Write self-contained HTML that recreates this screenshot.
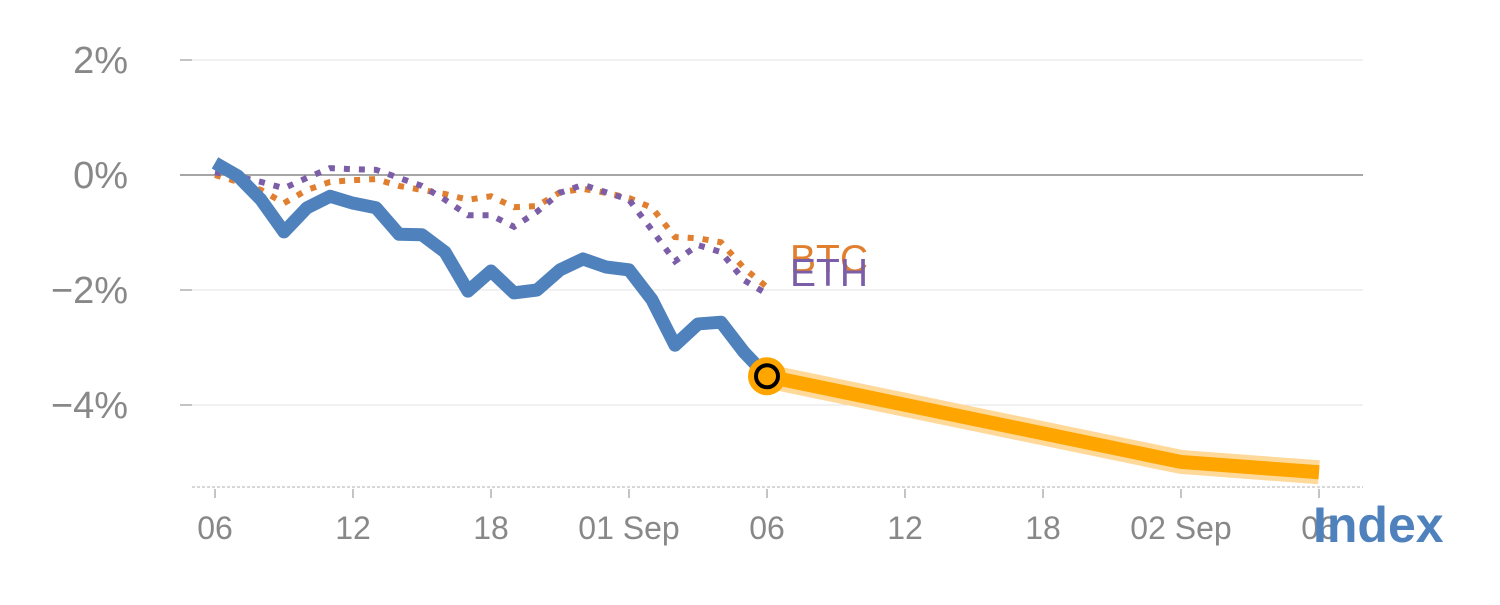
<!DOCTYPE html>
<html><head><meta charset="utf-8"><style>
body{margin:0;background:#fff;}
svg text{font-family:"Liberation Sans",sans-serif;}
</style></head><body>
<svg id="chart" width="1500" height="600" xmlns="http://www.w3.org/2000/svg"></svg>
<script>
const xTickLabels=["06","12","18","01 Sep","06","12","18","02 Sep","06"];
const yTicks=[2,0,-2,-4];
const indexValues=[0.21,-0.02,-0.43,-0.99,-0.57,-0.37,-0.49,-0.57,-1.03,-1.04,-1.34,-2.02,-1.67,-2.05,-2.0,-1.65,-1.46,-1.6,-1.65,-2.17,-2.96,-2.59,-2.56,-3.08,-3.5];
const btcValues=[0,-0.12,-0.26,-0.49,-0.26,-0.12,-0.09,-0.07,-0.19,-0.26,-0.33,-0.43,-0.37,-0.56,-0.54,-0.3,-0.24,-0.31,-0.4,-0.57,-1.08,-1.1,-1.17,-1.62,-1.95];
const ethValues=[0.05,-0.03,-0.12,-0.23,-0.05,0.12,0.1,0.09,-0.05,-0.19,-0.43,-0.7,-0.7,-0.9,-0.64,-0.31,-0.17,-0.3,-0.43,-0.96,-1.5,-1.22,-1.34,-1.83,-2.07];
const forecastDays=[24,42,48];
const forecastValues=[-3.5,-4.99,-5.17];
const X=d=>215+23*d, Y=v=>175-57.5*v;
const svg=document.getElementById('chart');
const NS="http://www.w3.org/2000/svg";
function mk(tag,attrs,parent){const e=document.createElementNS(NS,tag);for(const k in attrs)e.setAttribute(k,attrs[k]);(parent||svg).appendChild(e);return e;}
yTicks.forEach(v=>{
  const g=mk('line',{x1:180,x2:1363,y1:Y(v),y2:Y(v),stroke:v===0?'#888':'#e3e3e3','stroke-width':v===0?1.5:1});
  
  
  mk('line',{x1:180,x2:192,y1:Y(v),y2:Y(v),stroke:'#888','stroke-width':1});
  const t=mk('text',{x:128,y:Y(v)+13,'text-anchor':'end','font-size':38,fill:'#888'});
  t.textContent=(v<0?'\u2212':'')+Math.abs(v)+'%';
  
  
});
const ax=mk('line',{x1:192,x2:1363,y1:487,y2:487,stroke:'#ccc','stroke-width':1.5,'stroke-dasharray':'3,2'});


xTickLabels.forEach((l,i)=>{
  const x=X(i*6);
  mk('line',{x1:x,x2:x,y1:489,y2:498,stroke:'#888','stroke-width':1});
  const t=mk('text',{x:x,y:539,'text-anchor':'middle','font-size':32,fill:'#888'});
  t.textContent=l;
  
  
});
const pts=(arr,days)=>arr.map((v,i)=>X(days?days[i]:i)+','+Y(v)).join(' ');
const halo=mk('polyline',{points:pts(forecastValues,forecastDays),fill:'none',stroke:'#ffd99a','stroke-width':24,'stroke-linejoin':'round'});


const fc=mk('polyline',{points:pts(forecastValues,forecastDays),fill:'none',stroke:'#ffa500','stroke-width':14,'stroke-linejoin':'round'});


const btc=mk('polyline',{points:pts(btcValues),fill:'none',stroke:'#e07f30','stroke-width':6,'stroke-dasharray':'6,9'});


const eth=mk('polyline',{points:pts(ethValues),fill:'none',stroke:'#7b5ea7','stroke-width':6,'stroke-dasharray':'6,9'});


const idx=mk('polyline',{points:pts(indexValues),fill:'none',stroke:'#4f81bd','stroke-width':13,'stroke-linejoin':'round'});


const last=indexValues.length-1;
const m1=mk('circle',{cx:X(last),cy:Y(indexValues[last]),r:19,fill:'#ffa500'});


mk('circle',{cx:X(last),cy:Y(indexValues[last]),r:11,fill:'#ffa500',stroke:'#000','stroke-width':4});
const bl=mk('text',{x:790,y:272,'font-size':39,fill:'#e07f30'});bl.textContent='BTC';


const el=mk('text',{x:790,y:286,'font-size':39,fill:'#7b5ea7'});el.textContent='ETH';


const il=mk('text',{x:1313,y:542,'font-size':50,'font-weight':'bold',fill:'#4f81bd'});il.textContent='Index';


</script>
</body></html>
